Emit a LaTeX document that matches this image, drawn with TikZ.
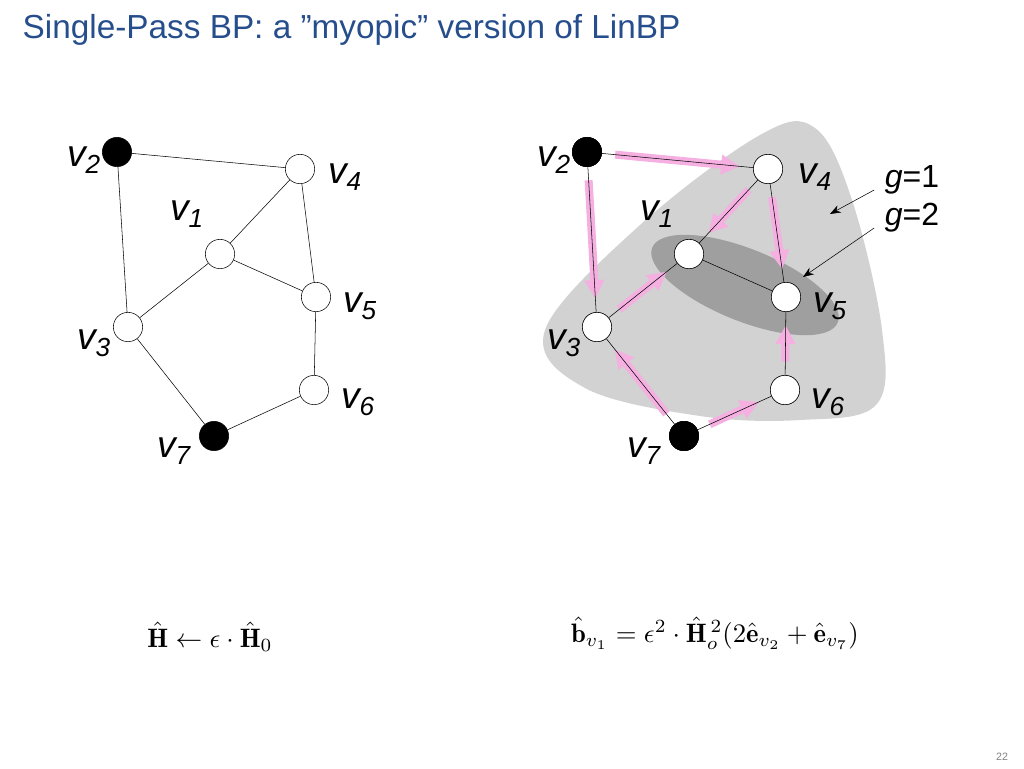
\documentclass[tikz,border=0pt]{standalone}
\usepackage{amsmath,amssymb}
\usepackage{fontspec}
\setsansfont{Liberation Sans}
\usetikzlibrary{arrows.meta,positioning,calc}
\definecolor{titleblue}{RGB}{38,78,140}
\definecolor{msgpink}{RGB}{245,175,225}
\newcommand{\vlab}[1]{v\textsubscript{#1}}
\tikzset{
  vx/.style={circle,draw,fill=white,minimum size=22pt,inner sep=0pt},
  vxb/.style={vx,fill=black},
  lab/.style={font=\sffamily\itshape\fontsize{28}{28}\selectfont},
  msg/.style={msgpink,line width=6pt,-{Triangle[length=14pt,width=14pt]},shorten >=10pt,shorten <=10pt},
}
\begin{document}
\begin{tikzpicture}[x=0.75pt,y=-0.75pt]
  \useasboundingbox (0,0) rectangle (1024,768);
  % titel
  \node[anchor=west,text=titleblue,font=\sffamily\fontsize{25}{25}\selectfont] (title) at (18,30) {Single-Pass BP: a \symbol{34}myopic\symbol{34} version of LinBP};

  % linker graph
  \node[vxb] (a2) at (117,152) {};
  \node[vx]  (a4) at (300,169) {};
  \node[vx]  (a1) at (220,254) {};
  \node[vx]  (a5) at (316,297) {};
  \node[vx]  (a3) at (128,327) {};
  \node[vx]  (a6) at (314,390) {};
  \node[vxb] (a7) at (214,436) {};
  \foreach \p/\q in {2/4,2/3,4/1,4/5,1/3,1/5,3/7,7/6,6/5}
    \draw (a\p) -- (a\q);
  \foreach \n/\x/\y in {2/84/160,4/345/177,1/187/214,5/360/306,3/94/343,6/358/402,7/174/451}
    \node[lab] (la\n) at (\x,\y) {\vlab{\n}};

  % rechter graph: gebiete
  \fill[gray!35] plot[smooth cycle,tension=0.6] coordinates
    {(545,330) (640,225) (760,135) (815,128) (852,200) (882,330) (876,405) (800,420) (700,416) (585,388)};
  \fill[gray!75,rotate around={-22:(745,285)}] (745,285) ellipse (100 and 36);

  \node[vxb] (b2) at (587,152) {};
  \node[vx]  (b4) at (768,169) {};
  \node[vx]  (b1) at (689,254) {};
  \node[vx]  (b5) at (786,297) {};
  \node[vx]  (b3) at (597,327) {};
  \node[vx]  (b6) at (785,390) {};
  \node[vxb] (b7) at (684,436) {};
  % nachrichten
  \foreach \p/\q in {2/4,2/3,4/1,4/5,3/1,7/3,7/6,6/5}
    \draw[msg] (b\p) -- (b\q);
  \foreach \p/\q in {2/4,2/3,4/1,4/5,1/3,1/5,3/7,7/6,6/5}
    \draw (b\p) -- (b\q);
  \foreach \n in {1,...,7}
    \node[vx] at (b\n) {};
  \node[vxb] at (b2) {};
  \node[vxb] at (b7) {};
  \foreach \n/\x/\y in {2/554/160,4/815/177,1/657/214,5/830/306,3/564/343,6/828/402,7/644/451}
    \node[lab] (lb\n) at (\x,\y) {\vlab{\n}};

  \node[font=\sffamily\fontsize{24}{24}\selectfont] (g1) at (912,180) {\textit{g}=1};
  \node[font=\sffamily\fontsize{24}{24}\selectfont] (g2) at (912,218) {\textit{g}=2};
  \coordinate (e1) at (830,214);
  \coordinate (e2) at (803,277);
  \draw[-{Stealth[length=8pt]}] (g1.west) ++(-6,10) -- (e1);
  \draw[-{Stealth[length=8pt]}] (g2.west) ++(-6,10) -- (e2);

  % formeln
  \node[scale=2] (f1) at (210,637) {$\hat{\mathbf{H}} \leftarrow \epsilon\cdot\hat{\mathbf{H}}_0$};
  \node[scale=2] (f2) at (715,633) {$\hat{\mathbf{b}}_{v_1} = \epsilon^2\cdot\hat{\mathbf{H}}_o^{\,2}(2\hat{\mathbf{e}}_{v_2}+\hat{\mathbf{e}}_{v_7})$};
  \node[gray,font=\sffamily\fontsize{8}{8}\selectfont] (pg) at (1002,757) {22};
\end{tikzpicture}
\end{document}
